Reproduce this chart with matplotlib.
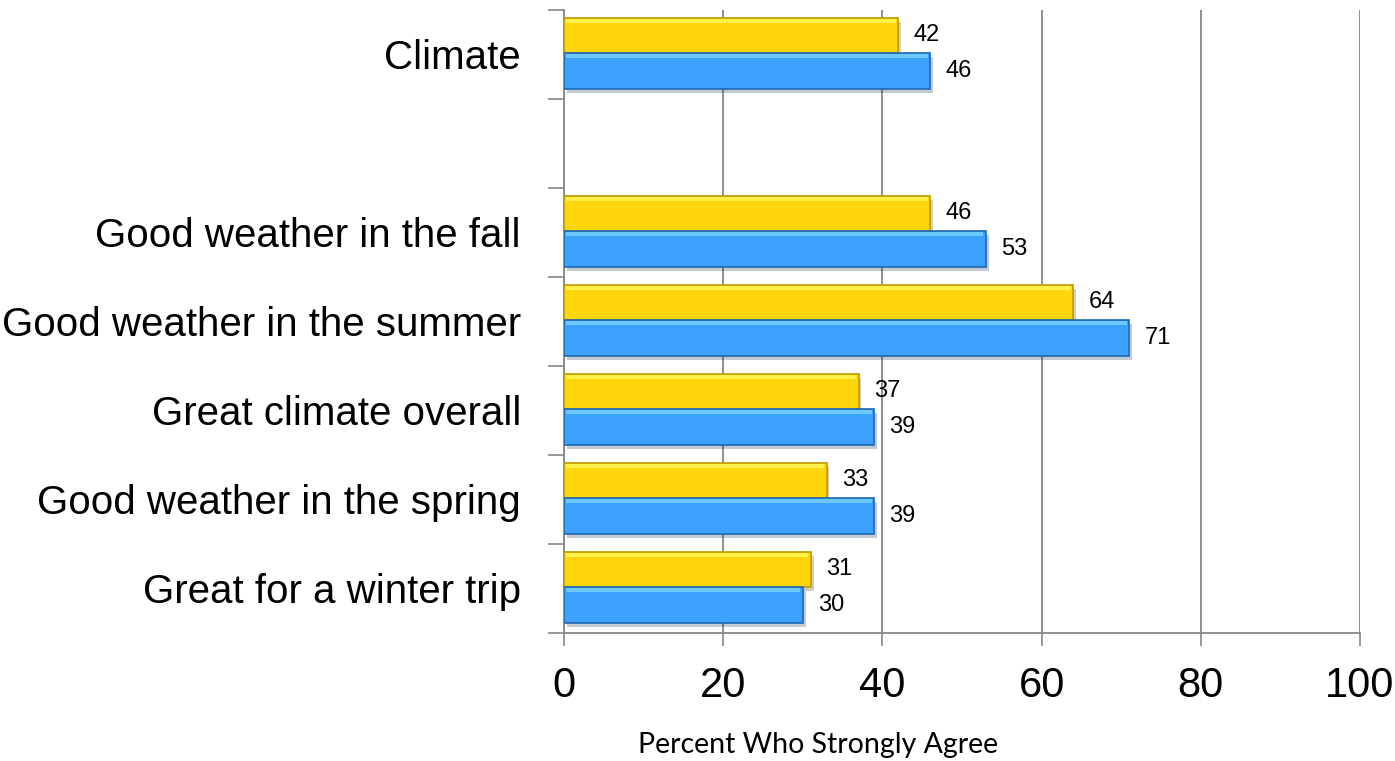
import matplotlib.pyplot as plt
import matplotlib.patheffects as pe
import numpy as np

# categories, bottom to top (blank slot between fall and Climate)
categories = ["Great for a winter trip", "Good weather in the spring",
              "Great climate overall", "Good weather in the summer",
              "Good weather in the fall", "", "Climate"]
yellow_vals = [31, 33, 37, 64, 46, None, 42]
blue_vals = [30, 39, 39, 71, 53, None, 46]
xticks = [0, 20, 40, 60, 80, 100]

YELLOW = "#FFD60E"
YELLOW_HI = "#FFF04A"
YELLOW_EDGE = "#BF9A00"
BLUE = "#3CA2FE"
BLUE_HI = "#6CC8FF"
BLUE_EDGE = "#1E68B0"
GRID = "#878787"

fig = plt.figure(figsize=(13.95, 7.61), dpi=100)
ax = fig.add_axes([0.4043, 0.1682, 0.5706, 0.8187])

y = np.arange(len(categories))
h = 0.4
shadow = [pe.SimplePatchShadow(offset=(2, -3), alpha=0.25), pe.Normal()]


def draw_bars(vals, off, main, hi, edge):
    idx = [i for i, v in enumerate(vals) if v is not None]
    v = np.array([vals[i] for i in idx], dtype=float)
    pos = y[idx] + off
    bars = ax.barh(pos, v, height=h, color=main, edgecolor=edge,
                   linewidth=1.2, zorder=3)
    for b in bars:
        b.set_path_effects(shadow)
    # bevel highlight along the top
    ax.barh(pos + h / 2 - 0.035, v - 0.6, height=0.045, left=0.3,
            color=hi, linewidth=0, zorder=4)
    for p, val in zip(pos, v):
        ax.text(val + 1.9, p, f"{val:.0f}", va="center", ha="left",
                fontsize=17, family="Liberation Sans", zorder=5)


draw_bars(yellow_vals, 0.215, YELLOW, YELLOW_HI, YELLOW_EDGE)
draw_bars(blue_vals, -0.185, BLUE, BLUE_HI, BLUE_EDGE)

ax.set_xlim(0, 100)
ax.set_ylim(-0.5, len(categories) - 0.5)

ax.set_xticks(xticks)
ax.set_xticklabels([str(t) for t in xticks], family="Liberation Sans", fontsize=30)
ax.tick_params(axis="x", direction="out", length=9, width=1.2, color=GRID, pad=15)

ax.set_yticks(y)
ax.set_yticklabels(categories, family="Liberation Sans", fontsize=29)
ax.tick_params(axis="y", which="major", length=0, pad=31)
ax.set_yticks(np.arange(-0.5, len(categories)), minor=True)
ax.tick_params(axis="y", which="minor", direction="out", length=11.5,
               width=1.2, color=GRID)

ax.xaxis.grid(True, color=GRID, linewidth=1.3, zorder=0)
ax.set_axisbelow(True)
for s in ["top", "right"]:
    ax.spines[s].set_visible(False)
for s in ["left", "bottom"]:
    ax.spines[s].set_color(GRID)
    ax.spines[s].set_linewidth(1.3)

fig.text(818 / 1395, 1 - 745 / 761, "Percent Who Strongly Agree",
         ha="center", va="center", fontsize=20.5, family="Lato")

fig.savefig("out.png", dpi=100)
